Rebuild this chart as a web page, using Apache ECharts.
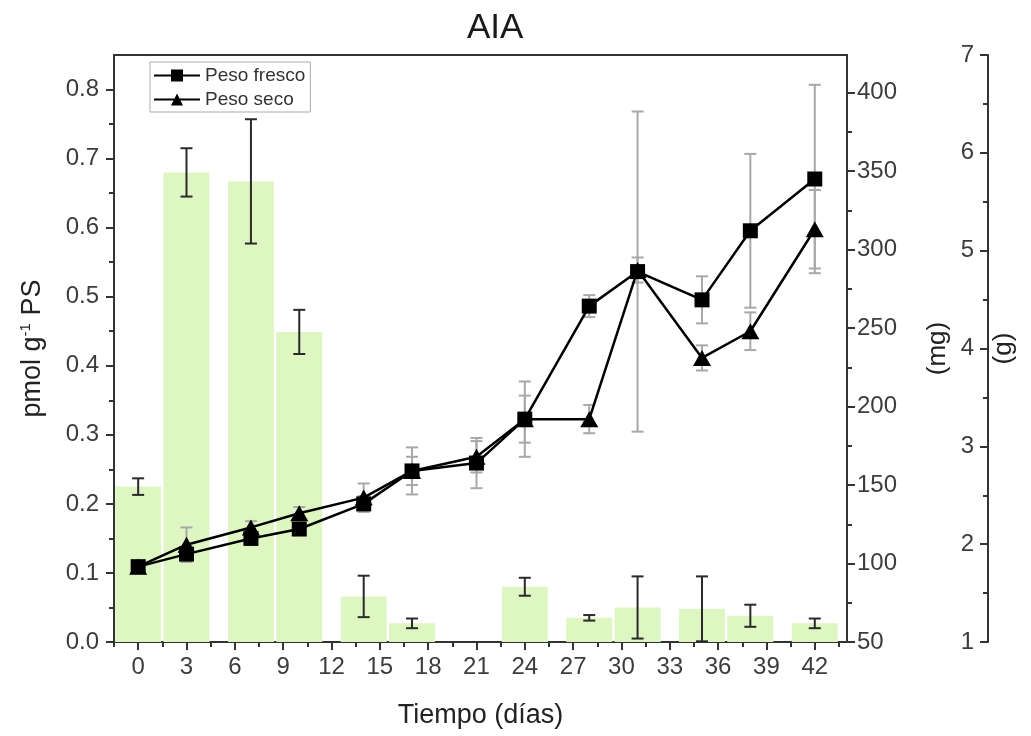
<!DOCTYPE html>
<html><head><meta charset="utf-8">
<script src="https://cdn.jsdelivr.net/npm/echarts@6/dist/echarts.min.js"></script>
<style>html,body{margin:0;padding:0;background:#fff}#c{width:1031px;height:736px}</style>
</head><body><div id="c"></div>
<script>
// ---- data ----
const days = [0, 3, 7, 10, 14, 17, 21, 24, 28, 31, 35, 38, 42];
const barDays = [0, 3, 7, 10, 14, 17, 24, 28, 31, 35, 38, 42];
const aiaValues = [0.225, 0.680, 0.667, 0.449, 0.066, 0.027, 0.080, 0.035, 0.050, 0.048, 0.038, 0.027];
const aiaErrors = [0.012, 0.035, 0.090, 0.032, 0.030, 0.007, 0.013, 0.004, 0.045, 0.047, 0.016, 0.007];
const pesoFresco = [98, 106, 116, 122, 138, 159, 164, 192, 264, 286, 268, 312, 345];
const pesoFrescoErr = [2, 3, 4, 4, 5, 9, 16, 24, 7, 102, 15, 49, 60];
const pesoSeco = [98, 112, 123, 132, 142, 159, 168, 192, 192, 287, 231, 248, 313];
const pesoSecoErr = [2, 11, 4, 4, 9, 15, 10, 15, 9, 8, 8, 12, 25];
const xTicks = [0, 3, 6, 9, 12, 15, 18, 21, 24, 27, 30, 33, 36, 39, 42];
const xMinorTicks = [-1.5, 1.5, 4.5, 7.5, 10.5, 13.5, 16.5, 19.5, 22.5, 25.5, 28.5, 31.5, 34.5, 37.5, 40.5, 43.5];
const leftTicks = [0, 0.1, 0.2, 0.3, 0.4, 0.5, 0.6, 0.7, 0.8];
const leftMinorTicks = [0.05, 0.15, 0.25, 0.35, 0.45, 0.55, 0.65, 0.75];
const mgTicks = [50, 100, 150, 200, 250, 300, 350, 400];
const mgMinorTicks = [75, 125, 175, 225, 275, 325, 375];
const gTicks = [1, 2, 3, 4, 5, 6, 7];
const gMinorTicks = [1.5, 2.5, 3.5, 4.5, 5.5, 6.5];

const FONT = "'Liberation Sans', Arial, sans-serif";
const AX = '#333';
const LBL = '#3c3c3c';

function errRender(color, cap, width) {
  return function (params, api) {
    const x = api.value(0), y = api.value(1), e = api.value(2);
    const hi = api.coord([x, y + e]), lo = api.coord([x, y - e]);
    const style = { stroke: color, lineWidth: width, fill: null };
    return { type: 'group', children: [
      { type: 'line', shape: { x1: hi[0], y1: hi[1], x2: lo[0], y2: lo[1] }, style },
      { type: 'line', shape: { x1: hi[0] - cap, y1: hi[1], x2: hi[0] + cap, y2: hi[1] }, style },
      { type: 'line', shape: { x1: lo[0] - cap, y1: lo[1], x2: lo[0] + cap, y2: lo[1] }, style }
    ]};
  };
}

function minorY(pos, min, max, vals, offset, inside) {
  return { type: 'value', position: pos, offset: offset || 0, min, max,
    axisLine: { show: false, onZero: false }, splitLine: { show: false },
    axisLabel: { show: false },
    axisTick: { show: true, inside: !!inside, length: 5, customValues: vals, lineStyle: { color: AX, width: 2 } } };
}

const chart = echarts.init(document.getElementById('c'), null, { renderer: 'canvas' });
chart.setOption({
  animation: false,
  backgroundColor: '#fff',
  textStyle: { fontFamily: FONT },
  title: { text: 'AIA', left: 467, top: 11, padding: 0,
    textStyle: { fontSize: 35, fontWeight: 'normal', color: '#1a1a1a', fontFamily: FONT } },
  legend: {
    left: 150, top: 62, orient: 'vertical', itemWidth: 46, itemHeight: 15, itemGap: 5,
    padding: [4, 5, 3, 3], borderColor: '#aaa', borderWidth: 1, backgroundColor: '#fff',
    textStyle: { fontSize: 19, color: '#333', fontFamily: FONT },
    data: ['Peso fresco', 'Peso seco']
  },
  grid: { left: 114, right: 184, top: 55, bottom: 94, containLabel: false },
  xAxis: [
    { type: 'value', position: 'bottom', min: -1.5, max: 44,
      name: 'Tiempo (días)', nameLocation: 'middle', nameGap: 60,
      nameTextStyle: { fontSize: 27, color: '#222', fontFamily: FONT },
      axisLine: { show: true, onZero: false, lineStyle: { color: AX, width: 2 } },
      axisTick: { show: true, length: 8, customValues: xTicks, lineStyle: { color: AX, width: 2 } },
      axisLabel: { customValues: xTicks, fontSize: 24, color: LBL, margin: 13, fontFamily: FONT },
      splitLine: { show: false } },
    { type: 'value', position: 'bottom', min: -1.5, max: 44,
      axisLine: { show: false, onZero: false }, splitLine: { show: false }, axisLabel: { show: false },
      axisTick: { show: true, length: 5, customValues: xMinorTicks, lineStyle: { color: AX, width: 2 } } },
    { type: 'value', position: 'top', min: -1.5, max: 44,
      axisLine: { show: true, onZero: false, lineStyle: { color: AX, width: 2 } },
      axisTick: { show: false }, axisLabel: { show: false }, splitLine: { show: false } }
  ],
  yAxis: [
    { type: 'value', position: 'left', min: 0, max: 0.85,
      name: 'pmol g{sup|-1} PS', nameLocation: 'middle', nameGap: 66,
      nameTextStyle: { fontSize: 27, color: '#222', fontFamily: FONT,
        rich: { sup: { fontSize: 15, verticalAlign: 'top', lineHeight: 30, fontFamily: FONT, color: '#222' } } },
      axisLine: { show: true, onZero: false, lineStyle: { color: AX, width: 2 } },
      axisTick: { show: true, length: 8, customValues: leftTicks, lineStyle: { color: AX, width: 2 } },
      axisLabel: { customValues: leftTicks, fontSize: 24, color: LBL, margin: 15, fontFamily: FONT,
        formatter: v => v.toFixed(1) },
      splitLine: { show: false } },
    minorY('left', 0, 0.85, leftMinorTicks, 0, false),
    { type: 'value', position: 'right', min: 50, max: 424,
      name: '(mg)', nameLocation: 'middle', nameGap: 78,
      nameTextStyle: { fontSize: 26, color: '#222', fontFamily: FONT },
      axisLine: { show: true, onZero: false, lineStyle: { color: AX, width: 2 } },
      axisTick: { show: true, length: 8, customValues: mgTicks, lineStyle: { color: AX, width: 2 } },
      axisLabel: { customValues: mgTicks, fontSize: 24, color: LBL, margin: 10, fontFamily: FONT },
      splitLine: { show: false } },
    minorY('right', 50, 424, mgMinorTicks, 0, false),
    { type: 'value', position: 'right', offset: 141, min: 1, max: 7,
      name: '(g)', nameLocation: 'middle', nameGap: 3, nameMoveOverlap: false,
      nameTextStyle: { fontSize: 26, color: '#222', fontFamily: FONT },
      axisLine: { show: true, onZero: false, lineStyle: { color: AX, width: 2 } },
      axisTick: { show: true, inside: true, length: 8, customValues: gTicks, lineStyle: { color: AX, width: 2 } },
      axisLabel: { inside: true, customValues: gTicks, fontSize: 24, color: LBL, margin: 14, fontFamily: FONT },
      splitLine: { show: false } },
    minorY('right', 1, 7, gMinorTicks, 141, true)
  ],
  series: [
    { type: 'bar', name: 'AIA', xAxisIndex: 0, yAxisIndex: 0, barWidth: 46, z: 1,
      itemStyle: { color: '#def6c2' },
      data: barDays.map((d, i) => [d, aiaValues[i]]) },
    { type: 'custom', name: 'AIA err', xAxisIndex: 0, yAxisIndex: 0, z: 3,
      renderItem: errRender('#2a2a2a', 6, 2),
      data: barDays.map((d, i) => [d, aiaValues[i], aiaErrors[i]]) },
    { type: 'custom', name: 'fresco err', xAxisIndex: 0, yAxisIndex: 2, z: 2,
      renderItem: errRender('#a8a8a8', 6, 2),
      data: days.map((d, i) => [d, pesoFresco[i], pesoFrescoErr[i]]) },
    { type: 'custom', name: 'seco err', xAxisIndex: 0, yAxisIndex: 2, z: 2,
      renderItem: errRender('#a8a8a8', 6, 2),
      data: days.map((d, i) => [d, pesoSeco[i], pesoSecoErr[i]]) },
    { type: 'line', name: 'Peso fresco', xAxisIndex: 0, yAxisIndex: 2, z: 5,
      symbol: 'rect', symbolSize: 15,
      lineStyle: { color: '#000', width: 2.5 }, itemStyle: { color: '#000' },
      data: days.map((d, i) => [d, pesoFresco[i]]) },
    { type: 'line', name: 'Peso seco', xAxisIndex: 0, yAxisIndex: 2, z: 5,
      symbol: 'triangle', symbolSize: [18, 16],
      lineStyle: { color: '#000', width: 2.5 }, itemStyle: { color: '#000' },
      data: days.map((d, i) => [d, pesoSeco[i]]) }
  ]
});
</script>
</body></html>
